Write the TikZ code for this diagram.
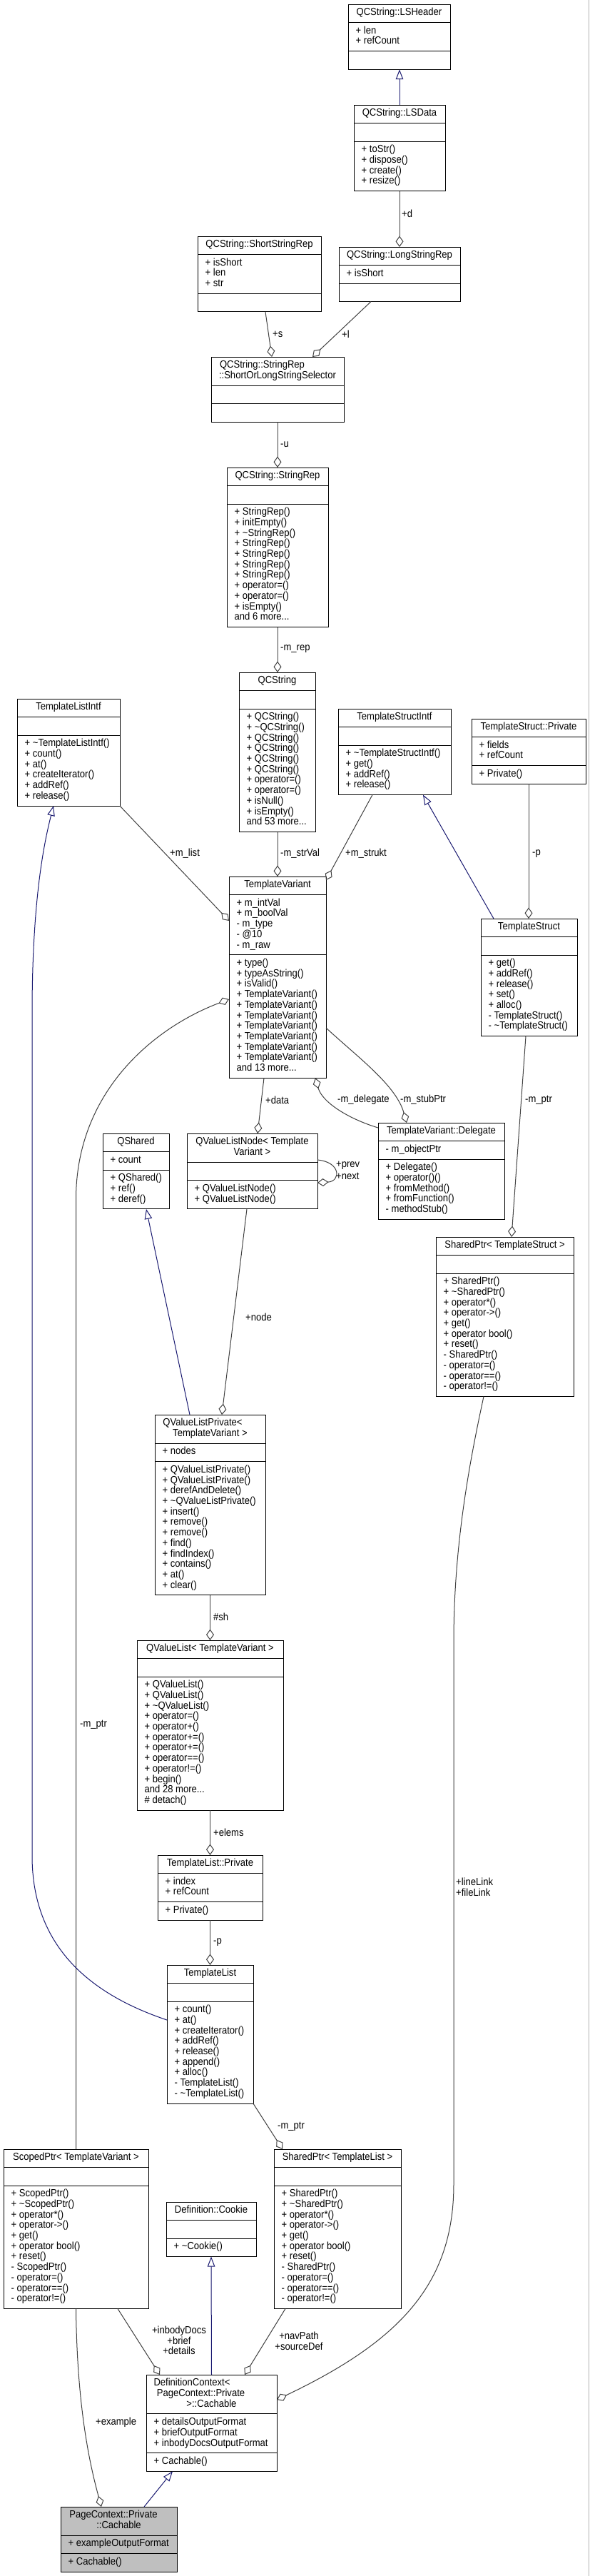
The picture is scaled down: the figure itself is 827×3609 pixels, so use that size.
\documentclass[tikz,border=0pt]{standalone}
\usepackage{fontspec}
\setmainfont{Liberation Sans}[FakeStretch=0.9]
\usetikzlibrary{arrows.meta}
\definecolor{inhcol}{RGB}{25,25,112}
\definecolor{aggcol}{RGB}{64,64,64}
\definecolor{hilite}{RGB}{191,191,191}
\def\parsecountsi#1/#2/#3\relax{\def\cnT{#1}\def\cnA{#2}\def\cnM{#3}}
\newcommand\cls[9]{%
  \parsecountsi#6\relax
  \pgfmathsetmacro\chT{\cnT*14.7+10.8}%
  \pgfmathsetmacro\chA{ifthenelse(\cnA==0,25.5,\cnA*14.7+10.8)}%
  \pgfmathsetmacro\chM{ifthenelse(\cnM==0,25.5,\cnM*14.7+10.8)}%
  \pgfmathsetmacro\chH{\chT+\chA+\chM}%
  \pgfmathsetmacro\cW{#4-#2}%
  \pgfmathsetmacro\cX{(#2+#4)/2}%
  \pgfmathsetmacro\cyA{#3+\chT}%
  \pgfmathsetmacro\cyM{\cyA+\chA}%
  \pgfmathsetmacro\cS{\chT+\chA}%
  \node[clsbox, fill=#5, minimum width=\cW pt, minimum height=\chH pt, anchor=north west] (#1) at (#2,#3) {};
  \draw[clssep] ([yshift=-\chT pt]#1.north west) -- ([yshift=-\chT pt]#1.north east);
  \draw[clssep] ([yshift=-\cS pt]#1.north west) -- ([yshift=-\cS pt]#1.north east);
  \foreach \lbl [count=\k] in {#7} {\node[clstxt, anchor=base] at (\cX, #3+1.0+\k*14.7) {\lbl};}
  \foreach \lbl [count=\k] in {#8} {\node[clstxt, anchor=base west] at (#2+10.5, \cyA+1.0+\k*14.7) {\lbl};}
  \foreach \lbl [count=\k] in {#9} {\node[clstxt, anchor=base west] at (#2+10.5, \cyM+1.0+\k*14.7) {\lbl};}
}
\tikzset{
  clsbox/.style={draw=black, line width=1pt, inner sep=0pt, outer sep=0pt},
  clssep/.style={draw=black, line width=1pt},
  clstxt/.style={inner sep=0pt, font=\fontsize{14.5}{14.7}\selectfont},
  lbl/.style={inner sep=0pt, anchor=west, font=\fontsize{14.5}{14.7}\selectfont, align=left},
  inh/.style={draw=inhcol, line width=1pt, -{Triangle[open, length=14pt, width=10.5pt]}},
  agg/.style={draw=aggcol, line width=1pt, -{Diamond[open, length=15.5pt, width=11pt]}},
}
\begin{document}
\begin{tikzpicture}[x=1pt, y=-1pt]
\fill[white] (0,0) rectangle (827,3609);
\useasboundingbox (0,0) rectangle (827,3609);
\draw[gray!60, line width=1pt] (825.5,0) -- (825.5,3609);

% ---------- classes ----------
\cls{lsh}{488}{6}{631}{white}{1/2/0}{QCString::LSHeader}{+ len, + refCount}{}
\cls{lsd}{496}{147}{624}{white}{1/0/4}{QCString::LSData}{}{+ toStr(), + dispose(), + create(), + resize()}
\cls{ssr}{277}{331}{450}{white}{1/3/0}{QCString::ShortStringRep}{+ isShort, + len, + str}{}
\cls{lsr}{475}{346}{645}{white}{1/1/0}{QCString::LongStringRep}{+ isShort}{}
\cls{sel}{296}{500}{482}{white}{2/0/0}{QCString::StringRep\hspace*{43pt}, ::ShortOrLongStringSelector}{}{}
\cls{srep}{318}{655}{460}{white}{1/0/11}{QCString::StringRep}{}{+ StringRep(), + initEmpty(), + \textasciitilde StringRep(), + StringRep(), + StringRep(), + StringRep(), + StringRep(), + operator=(), + operator=(), + isEmpty(), and 6 more.{}.{}.}
\cls{qcs}{335}{942}{442}{white}{1/0/11}{QCString}{}{+ QCString(), + \textasciitilde QCString(), + QCString(), + QCString(), + QCString(), + QCString(), + operator=(), + operator=(), + isNull(), + isEmpty(), and 53 more.{}.{}.}
\cls{tli}{24}{979}{168}{white}{1/0/6}{TemplateListIntf}{}{+ \textasciitilde TemplateListIntf(), + count(), + at(), + createIterator(), + addRef(), + release()}
\cls{tsi}{474}{993}{632}{white}{1/0/4}{TemplateStructIntf}{}{+ \textasciitilde TemplateStructIntf(), + get(), + addRef(), + release()}
\cls{tsp}{661}{1007}{821}{white}{1/2/1}{TemplateStruct::Private}{+ fields, + refCount}{+ Private()}
\cls{tv}{321}{1228}{457}{white}{1/5/11}{TemplateVariant}{+ m\_intVal, + m\_boolVal, - m\_type, - @10, - m\_raw}{+ type(), + typeAsString(), + isValid(), + TemplateVariant(), + TemplateVariant(), + TemplateVariant(), + TemplateVariant(), + TemplateVariant(), + TemplateVariant(), + TemplateVariant(), and 13 more.{}.{}.}
\cls{ts}{674}{1287}{809}{white}{1/0/7}{TemplateStruct}{}{+ get(), + addRef(), + release(), + set(), + alloc(), - TemplateStruct(), - \textasciitilde TemplateStruct()}
\cls{qsh}{144}{1588}{237}{white}{1/1/3}{QShared}{+ count}{+ QShared(), + ref(), + deref()}
\cls{qvln}{262}{1588}{445}{white}{2/0/2}{QValueListNode< Template, Variant >}{}{+ QValueListNode(), + QValueListNode()}
\cls{del}{530}{1573}{707}{white}{1/1/5}{TemplateVariant::Delegate}{- m\_objectPtr}{+ Delegate(), + operator()(), + fromMethod(), + fromFunction(), - methodStub()}
\cls{spts}{611}{1733}{804}{white}{1/0/11}{SharedPtr< TemplateStruct >}{}{+ SharedPtr(), + \textasciitilde SharedPtr(), + operator*(), + operator->(), + get(), + operator bool(), + reset(), - SharedPtr(), - operator=(), - operator==(), - operator!=()}
\cls{qvlp}{217}{1982}{372}{white}{2/1/12}{QValueListPrivate<\hspace*{21pt}, TemplateVariant >}{+ nodes}{+ QValueListPrivate(), + QValueListPrivate(), + derefAndDelete(), + \textasciitilde QValueListPrivate(), + insert(), + remove(), + remove(), + find(), + findIndex(), + contains(), + at(), + clear()}
\cls{qvl}{192}{2298}{397}{white}{1/0/12}{QValueList< TemplateVariant >}{}{+ QValueList(), + QValueList(), + \textasciitilde QValueList(), + operator=(), + operator+(), + operator+=(), + operator+=(), + operator==(), + operator!=(), + begin(), and 28 more.{}.{}., \# detach()}
\cls{tlp}{221}{2599}{368}{white}{1/2/1}{TemplateList::Private}{+ index, + refCount}{+ Private()}
\cls{tl}{234}{2753}{355}{white}{1/0/9}{TemplateList}{}{+ count(), + at(), + createIterator(), + addRef(), + release(), + append(), + alloc(), - TemplateList(), - \textasciitilde TemplateList()}
\cls{sptv}{5}{3011}{208}{white}{1/0/11}{ScopedPtr< TemplateVariant >}{}{+ ScopedPtr(), + \textasciitilde ScopedPtr(), + operator*(), + operator->(), + get(), + operator bool(), + reset(), - ScopedPtr(), - operator=(), - operator==(), - operator!=()}
\cls{cookie}{233}{3085}{359}{white}{1/0/1}{Definition::Cookie}{}{+ \textasciitilde Cookie()}
\cls{sptl}{384}{3011}{562}{white}{1/0/11}{SharedPtr< TemplateList >}{}{+ SharedPtr(), + \textasciitilde SharedPtr(), + operator*(), + operator->(), + get(), + operator bool(), + reset(), - SharedPtr(), - operator=(), - operator==(), - operator!=()}
\cls{dc}{205}{3327}{388}{white}{3/3/1}{DefinitionContext<\hspace*{55pt}, PageContext::Private\hspace*{30pt}, >::Cachable}{+ detailsOutputFormat, + briefOutputFormat, + inbodyDocsOutputFormat}{+ Cachable()}
\cls{pc}{85}{3512}{248}{hilite}{2/1/1}{PageContext::Private\hspace*{15pt}, ::Cachable}{+ exampleOutputFormat}{+ Cachable()}

% ---------- connectors ----------
\draw[inh] ([xshift=64pt]lsd.north west) -- ([xshift=72pt]lsh.south west);
\draw[agg] ([xshift=64pt]lsd.south west) -- ([xshift=85pt]lsr.north west);
\node[lbl] (l-d) at (563,299) {+d};
\draw[agg] ([xshift=95pt]ssr.south west) -- ([xshift=85pt]sel.north west);
\node[lbl] (l-s) at (382,468) {+s};
\draw[agg] ([xshift=45pt]lsr.south west) -- ([xshift=142pt]sel.north west);
\node[lbl] (l-l) at (479,468) {+l};
\draw[agg] ([xshift=93pt]sel.south west) -- ([xshift=71pt]srep.north west);
\node[lbl] (l-u) at (393,623) {-u};
\draw[agg] ([xshift=71pt]srep.south west) -- ([xshift=54pt]qcs.north west);
\node[lbl] (l-mrep) at (393,909) {-m\_rep};
\draw[agg] ([xshift=54pt]qcs.south west) -- ([xshift=68pt]tv.north west);
\node[lbl] (l-strval) at (393,1196) {-m\_strVal};
\draw[agg] (tli.south east) -- ([yshift=-62pt]tv.north west);
\node[lbl] (l-mlist) at (238,1196) {+m\_list};
\draw[agg] ([xshift=48pt]tsi.south west) -- ([yshift=-5pt]tv.north east);
\node[lbl] (l-strukt) at (484,1196) {+m\_strukt};
\draw[inh] ([xshift=18pt]ts.north west) -- ([xshift=119pt]tsi.south west);
\draw[agg] ([xshift=80pt]tsp.south west) -- ([xshift=67pt]ts.north west);
\node[lbl] (l-p1) at (746,1196) {-p};
\draw[agg] (sptv.north) -- (106.5,1680) .. controls (106.5,1530) and (215,1440) .. ([yshift=-172pt]tv.north west);
\node[lbl] (l-mptr1) at (112,2416) {-m\_ptr};
\draw[agg] ([yshift=-212pt]tv.north east) .. controls (500,1480) and (555,1520) .. ([xshift=40pt]del.north west);
\node[lbl] (l-stub) at (561,1541) {-m\_stubPtr};
\draw[agg] ([yshift=-7pt]del.north west) .. controls (490,1568) and (452,1545) .. ([xshift=121pt]tv.south west);
\node[lbl] (l-deleg) at (473,1541) {-m\_delegate};
\draw[agg] ([xshift=49pt]tv.south west) -- ([xshift=99pt]qvln.north west);
\node[lbl] (l-data) at (372,1541) {+data};
\draw[agg] ([xshift=63pt]ts.south west) -- ([xshift=106pt]spts.north west);
\node[lbl] (l-mptr2) at (736,1541) {-m\_ptr};
\draw[agg] ([yshift=-37pt]qvln.north east) .. controls (478,1628) and (478,1655) .. ([yshift=-69pt]qvln.north east);
\node[lbl] (l-prev) at (471,1633) {+prev};
\node[lbl] (l-next) at (471,1648) {+next};
\draw[inh] ([xshift=49pt]qvlp.north west) -- ([xshift=61pt]qsh.south west);
\draw[agg] ([xshift=84pt]qvln.south west) -- ([xshift=94pt]qvlp.north west);
\node[lbl] (l-node) at (344,1845) {+node};
\draw[agg] (qvlp.south) -- (qvl.north);
\node[lbl] (l-sh) at (299,2265) {\#sh};
\draw[agg] (qvl.south) -- (tlp.north);
\node[lbl] (l-elems) at (299,2567) {+elems};
\draw[agg] (tlp.south) -- (tl.north);
\node[lbl] (l-p2) at (299,2721) {-p};
\draw[inh] ([yshift=-77pt]tl.north west) .. controls (130,2795) and (45,2730) .. (45,2600) -- (45,1420) .. controls (45,1260) and (62,1180) .. ([xshift=51pt]tli.south west);
\draw[agg] (tl.south east) -- ([xshift=12pt]sptl.north west);
\node[lbl] (l-mptr3) at (389,2979) {-m\_ptr};
\draw[inh] (dc.north) -- (cookie.south);
\draw[agg] ([xshift=160pt]sptv.south west) -- ([xshift=19pt]dc.north west);
\node[lbl, anchor=center, align=center] (l-docs) at (251,3279) {+inbodyDocs\\+brief\\+details};
\draw[agg] ([xshift=16pt]sptl.south west) -- ([xshift=138pt]dc.north west);
\node[lbl, anchor=center, align=center] (l-nav) at (419,3280) {+navPath\\+sourceDef};
\draw[agg] (sptv.south) .. controls (108,3380) and (128,3460) .. ([xshift=57pt]pc.north west);
\node[lbl] (l-example) at (134,3394) {+example};
\draw[agg] ([xshift=67pt]spts.south west) .. controls (660,2040) and (636,2160) .. (636,2300) -- (636,3060) .. controls (636,3200) and (560,3280) .. ([yshift=-35pt]dc.north east);
\node[lbl] (l-links) at (639,2644) {+lineLink\\+fileLink};
\draw[inh] ([xshift=117pt]pc.north west) -- ([xshift=37pt]dc.south west);
\end{tikzpicture}
\end{document}
